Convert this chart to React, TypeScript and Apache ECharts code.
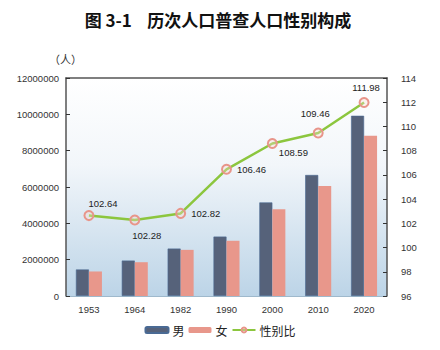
import React, { useEffect, useRef } from "react";
import * as echarts from "echarts";

const years = ["1953", "1964", "1982", "1990", "2000", "2010", "2020"];
const male = [1460000, 1950000, 2610000, 3270000, 5150000, 6660000, 9920000];
const female = [1350000, 1860000, 2540000, 3040000, 4770000, 6050000, 8820000];
const sexRatio = [102.64, 102.28, 102.82, 106.46, 108.59, 109.46, 111.98];
const labelPos: [string, number[]][] = [
  ["top", [14, 3]],
  ["bottom", [12, 0]],
  ["right", [0, 0]],
  ["right", [0, 0]],
  ["right", [-4, 9]],
  ["top", [-3, -4]],
  ["top", [2, 1]],
];

const FONT = "Liberation Sans, Arial, sans-serif";

export default function App() {
  const ref = useRef<HTMLDivElement>(null);
  useEffect(() => {
    if (!ref.current) return;
    const chart = echarts.init(ref.current, null, { renderer: "svg" });
    chart.setOption({
      animation: false,
      backgroundColor: "#ffffff",
      title: {
        text: "图 3-1    历次人口普查人口性别构成",
        left: 213,
        textAlign: "center",
        top: 6,
        textStyle: {
          fontFamily: "Noto Sans CJK SC",
          fontWeight: 600,
          fontSize: 17,
          color: "#111",
        },
      },
      graphic: [
        {
          type: "text",
          left: 49,
          top: 53,
          style: { text: "（人）", fontSize: 11, fill: "#333", fontFamily: "Noto Sans CJK SC" },
        },
      ],
      legend: {
        bottom: 9,
        left: "center",
        itemWidth: 23,
        itemHeight: 6,
        itemGap: 4,
        textStyle: { fontFamily: "Noto Sans CJK SC", fontSize: 12, color: "#222", padding: [0, 0, 0, -1] },
        data: ["男", "女", "性别比"],
      },
      grid: {
        left: 66,
        right: 53,
        top: 78,
        bottom: 54,
        show: true,
        borderWidth: 0,
        backgroundColor: {
          type: "linear",
          x: 0,
          y: 0,
          x2: 0,
          y2: 1,
          colorStops: [
            { offset: 0, color: "#ffffff" },
            { offset: 0.4, color: "#f2f6fa" },
            { offset: 1, color: "#bcd4e7" },
          ],
        },
      },
      xAxis: [
        {
          type: "category",
          data: years,
          axisLine: { lineStyle: { color: "#9fb9cc", width: 1 } },
          axisTick: { inside: true, length: 3, lineStyle: { color: "#333" } },
          axisLabel: { color: "#333", fontSize: 9.5, fontFamily: FONT, margin: 8 },
        },
        {
          type: "category",
          data: years,
          position: "top",
          axisLine: { lineStyle: { color: "#555", width: 1.5 } },
          axisTick: { show: false },
          axisLabel: { show: false },
        },
      ],
      yAxis: [
        {
          type: "value",
          min: 0,
          max: 12000000,
          interval: 2000000,
          splitLine: { show: false },
          axisLine: { show: true, lineStyle: { color: "#555", width: 1.5 } },
          axisTick: { show: true, inside: true, length: 4, lineStyle: { color: "#333" } },
          axisLabel: {
            color: "#333",
            fontSize: 9.5,
            fontFamily: FONT,
            margin: 7,
            formatter: (v: number) => String(v),
          },
        },
        {
          type: "value",
          min: 96,
          max: 114,
          interval: 2,
          splitLine: { show: false },
          axisLine: { show: true, lineStyle: { color: "#555", width: 1.5 } },
          axisTick: { show: true, inside: true, length: 4, lineStyle: { color: "#333" } },
          axisLabel: { color: "#333", fontSize: 9.5, fontFamily: FONT, margin: 14 },
        },
      ],
      series: [
        {
          name: "男",
          type: "bar",
          data: male,
          barWidth: 13,
          barGap: "0%",
          itemStyle: { color: "#56627a", borderColor: "#4a6a94", borderWidth: 0.6 },
        },
        {
          name: "女",
          type: "bar",
          data: female,
          barWidth: 13,
          barGap: "0%",
          itemStyle: { color: "#e8978b" },
        },
        {
          name: "性别比",
          type: "line",
          yAxisIndex: 1,
          symbol: "circle",
          symbolSize: 9,
          lineStyle: { color: "#8cc63e", width: 2.5 },
          itemStyle: { color: "rgba(250,220,210,0.35)", borderColor: "#e8958a", borderWidth: 2 },
          data: sexRatio.map((v, i) => ({
            value: v,
            label: {
              show: true,
              position: labelPos[i][0],
              offset: labelPos[i][1],
              distance: 5,
              color: "#222",
              fontSize: 9.5,
              fontFamily: FONT,
              formatter: (p: any) => p.value.toFixed(2),
            },
          })),
        },
      ],
    });
    return () => chart.dispose();
  }, []);
  return <div ref={ref} style={{ width: 440, height: 350, position: "absolute", left: 0, top: 0 }} />;
}
